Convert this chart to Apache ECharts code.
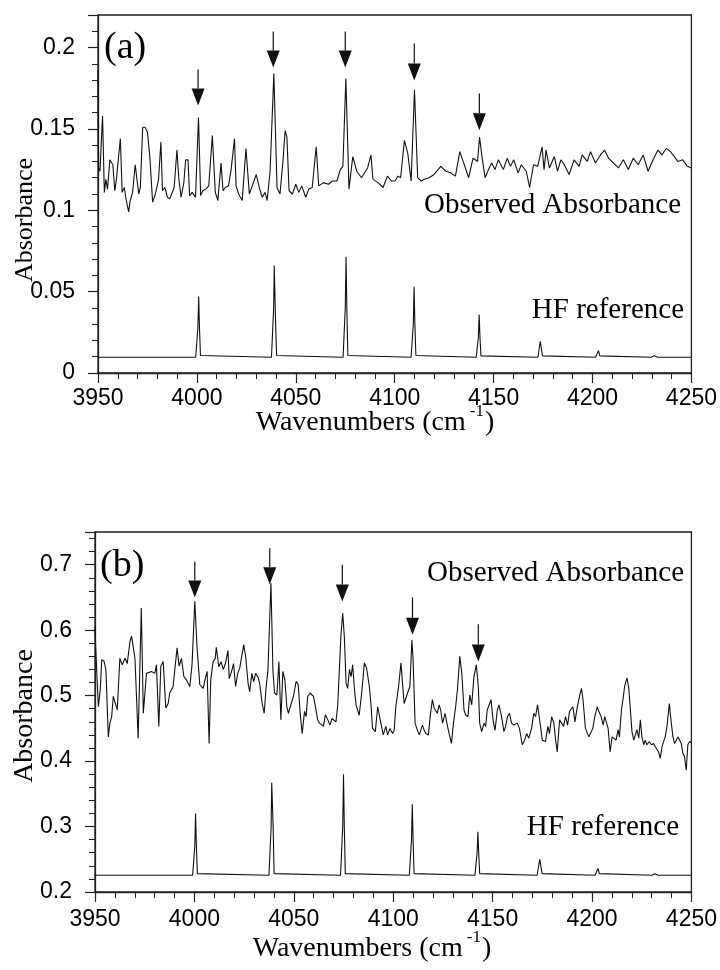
<!DOCTYPE html>
<html>
<head>
<meta charset="utf-8">
<script src="https://cdn.jsdelivr.net/npm/echarts@6/dist/echarts.min.js"></script>
<style>
  html, body { margin: 0; padding: 0; background: #fff; }
  #main { width: 720px; height: 970px; }
</style>
</head>
<body>
<div id="main"></div>
<script>
// x range and ticks (cm-1)
var xMin = 3950, xMax = 4250, xStep = 50;

// panel (a) - observed absorbance [wavenumber, absorbance]
var obsA = [
  [3950.0,0.186],[3950.3,0.126],[3951.0,0.124],[3952.3,0.158],[3953.2,0.111],[3954.0,0.119],[3954.8,0.113],
  [3956.0,0.131],[3957.5,0.128],[3958.5,0.112],[3959.3,0.119],[3961.3,0.144],[3962.2,0.111],[3963.3,0.114],
  [3964.3,0.106],[3965.5,0.099],[3966.3,0.106],[3967.5,0.111],[3968.8,0.128],[3969.6,0.127],[3970.6,0.110],
  [3971.4,0.114],[3972.6,0.151],[3973.8,0.151],[3975.0,0.148],[3976.2,0.133],[3977.6,0.105],[3979.0,0.110],
  [3980.6,0.119],[3981.8,0.142],[3982.6,0.112],[3983.8,0.114],[3985.1,0.108],[3986.3,0.107],[3987.3,0.106],
  [3988.5,0.114],[3989.9,0.137],[3990.9,0.119],[3992.0,0.108],[3993.4,0.117],[3994.3,0.131],[3995.5,0.131],
  [3996.3,0.109],[3997.6,0.111],[3999.3,0.108],[4000.8,0.157],[4001.9,0.109],[4003.0,0.112],[4004.4,0.113],
  [4006.0,0.115],[4007.8,0.146],[4009.3,0.111],[4010.6,0.106],[4012.2,0.129],[4013.2,0.112],[4014.3,0.114],
  [4016.0,0.115],[4017.3,0.125],[4019.0,0.144],[4019.8,0.115],[4021.1,0.110],[4022.9,0.106],[4024.8,0.138],
  [4026.5,0.110],[4028.0,0.115],[4030.0,0.122],[4031.5,0.114],[4033.0,0.108],[4034.5,0.111],[4035.5,0.106],
  [4037.0,0.124],[4038.9,0.184],[4040.5,0.114],[4042.0,0.110],[4043.5,0.130],[4044.6,0.149],[4045.5,0.145],
  [4046.6,0.112],[4048.3,0.110],[4050.0,0.116],[4051.5,0.111],[4053.0,0.115],[4055.0,0.108],[4056.6,0.113],
  [4058.3,0.114],[4060.3,0.139],[4061.6,0.115],[4064.0,0.117],[4066.5,0.116],[4068.5,0.118],[4070.8,0.118],
  [4072.5,0.125],[4073.8,0.127],[4075.3,0.181],[4076.9,0.113],[4078.8,0.133],[4080.8,0.124],[4083.2,0.120],
  [4086.3,0.126],[4088.0,0.134],[4089.0,0.119],[4091.6,0.117],[4094.1,0.114],[4096.3,0.121],[4098.3,0.118],
  [4100.2,0.118],[4101.6,0.121],[4103.0,0.120],[4104.9,0.143],[4106.6,0.135],[4108.3,0.118],[4110.0,0.174],
  [4111.6,0.120],[4113.3,0.118],[4115.0,0.119],[4117.4,0.120],[4119.9,0.122],[4123.3,0.127],[4125.8,0.124],
  [4128.3,0.123],[4130.7,0.121],[4132.9,0.136],[4134.9,0.129],[4137.4,0.120],[4139.6,0.132],[4141.9,0.130],
  [4142.9,0.145],[4144.1,0.133],[4145.7,0.120],[4147.4,0.125],[4149.0,0.129],[4150.7,0.125],[4152.4,0.131],
  [4154.9,0.125],[4156.9,0.132],[4158.5,0.127],[4160.2,0.131],[4162.4,0.123],[4164.0,0.128],[4166.5,0.124],
  [4168.2,0.114],[4170.2,0.128],[4172.3,0.127],[4174.5,0.139],[4175.5,0.125],[4176.5,0.137],[4178.2,0.126],
  [4180.7,0.133],[4182.3,0.124],[4184.0,0.131],[4185.7,0.128],[4188.2,0.122],[4190.7,0.131],[4193.2,0.127],
  [4194.8,0.134],[4197.3,0.130],[4199.0,0.136],[4201.5,0.129],[4204.0,0.134],[4206.1,0.137],[4208.1,0.132],
  [4210.6,0.129],[4213.1,0.126],[4215.6,0.131],[4218.1,0.125],[4220.6,0.132],[4223.1,0.128],[4225.6,0.134],
  [4228.1,0.124],[4230.6,0.131],[4233.1,0.137],[4235.1,0.134],[4237.3,0.138],[4239.4,0.136],[4241.4,0.133],
  [4243.1,0.130],[4245.6,0.131],[4248.0,0.127],[4250.0,0.126]
];

// panel (a) - HF reference
var refA = [
  [3950,0.0097],
  [3999.4,0.0097],[4000.1,0.0108],[4000.5,0.028],[4000.9,0.047],[4001.3,0.028],[4001.8,0.0108],[4002.6,0.0097],
  [4037.7,0.0097],[4038.4,0.0108],[4038.8,0.040],[4039.1,0.066],[4039.4,0.0655],[4039.8,0.030],[4040.3,0.0108],[4041.1,0.0097],
  [4073.9,0.0097],[4074.6,0.0108],[4075.0,0.040],[4075.4,0.0714],[4075.8,0.040],[4076.3,0.0108],[4077.1,0.0097],
  [4108.3,0.0097],[4109.0,0.0108],[4109.4,0.030],[4109.8,0.053],[4110.2,0.030],[4110.7,0.0108],[4111.5,0.0097],
  [4141.2,0.0097],[4141.9,0.0105],[4142.3,0.022],[4142.7,0.036],[4143.1,0.022],[4143.6,0.0105],[4144.4,0.0097],
  [4172.4,0.0097],[4173.2,0.0105],[4173.6,0.0195],[4174.2,0.0198],[4174.7,0.0105],[4175.6,0.0097],
  [4201.5,0.0097],[4202.4,0.0105],[4203.0,0.0137],[4203.7,0.0105],[4204.7,0.0097],
  [4229.7,0.0097],[4230.5,0.0102],[4231.2,0.0106],[4232.0,0.0099],[4233.0,0.0097],
  [4250,0.0097]
];

// panel (a) arrows: [wavenumber, tail, tip]
var arrowsA = [
  [4000.6,0.1865,0.1644],
  [4038.6,0.2098,0.1877],
  [4075.0,0.2098,0.1877],
  [4109.9,0.2025,0.1798],
  [4142.8,0.1718,0.1491]
];

// panel (b) - observed absorbance
var obsB = [
  [3950.0,0.605],[3950.4,0.570],[3951.7,0.483],[3952.6,0.508],[3953.4,0.555],[3954.5,0.553],[3955.5,0.539],
  [3956.7,0.437],[3957.5,0.458],[3958.4,0.468],[3959.2,0.499],[3960.0,0.501],[3961.2,0.478],[3962.5,0.557],
  [3963.7,0.547],[3965.1,0.557],[3966.2,0.549],[3967.6,0.583],[3968.4,0.591],[3969.2,0.575],[3970.1,0.557],
  [3970.9,0.555],[3971.7,0.435],[3972.6,0.435],[3973.3,0.634],[3973.9,0.634],[3974.3,0.473],[3975.1,0.471],
  [3975.9,0.534],[3976.8,0.532],[3978.4,0.537],[3980.1,0.534],[3980.9,0.547],[3982.1,0.453],[3983.1,0.545],
  [3984.3,0.552],[3985.6,0.481],[3986.8,0.488],[3987.6,0.504],[3989.3,0.514],[3990.1,0.539],[3991.3,0.573],
  [3992.3,0.545],[3993.5,0.557],[3994.7,0.529],[3996.0,0.524],[3997.7,0.514],[3998.8,0.547],[4000.2,0.644],
  [4001.3,0.575],[4002.7,0.517],[4003.5,0.519],[4004.4,0.511],[4005.7,0.529],[4006.4,0.537],[4007.4,0.427],
  [4008.2,0.524],[4009.4,0.552],[4010.5,0.557],[4011.0,0.574],[4012.3,0.544],[4013.4,0.552],[4014.5,0.540],
  [4015.6,0.549],[4016.9,0.569],[4017.5,0.526],[4018.6,0.536],[4019.7,0.549],[4020.7,0.514],[4021.8,0.534],
  [4022.8,0.542],[4024.8,0.578],[4025.8,0.559],[4027.0,0.519],[4027.8,0.506],[4028.9,0.534],[4029.8,0.521],
  [4030.8,0.534],[4031.9,0.529],[4032.8,0.519],[4034.1,0.488],[4035.1,0.473],[4036.1,0.514],[4037.0,0.539],
  [4037.8,0.611],[4038.5,0.672],[4039.5,0.539],[4040.3,0.504],[4041.5,0.501],[4042.5,0.552],[4043.5,0.463],
  [4044.5,0.537],[4045.5,0.524],[4046.5,0.483],[4047.3,0.473],[4048.7,0.488],[4049.8,0.499],[4051.2,0.522],
  [4052.2,0.517],[4053.2,0.473],[4054.2,0.442],[4055.4,0.476],[4056.2,0.468],[4057.0,0.499],[4058.2,0.504],
  [4059.2,0.506],[4059.9,0.499],[4060.9,0.483],[4062.0,0.463],[4062.9,0.458],[4063.9,0.460],[4064.9,0.453],
  [4065.9,0.471],[4067.1,0.463],[4068.2,0.455],[4069.2,0.465],[4070.2,0.468],[4071.2,0.460],[4072.1,0.486],
  [4072.9,0.539],[4073.7,0.591],[4074.6,0.626],[4075.4,0.591],[4076.3,0.519],[4077.1,0.511],[4078.0,0.540],
  [4078.8,0.529],[4079.6,0.547],[4080.4,0.514],[4081.3,0.486],[4082.1,0.488],[4082.9,0.470],[4084.3,0.509],
  [4085.5,0.550],[4086.6,0.542],[4088.0,0.514],[4088.8,0.488],[4089.6,0.450],[4091.0,0.445],[4092.2,0.483],
  [4093.0,0.481],[4093.8,0.458],[4095.0,0.440],[4096.3,0.453],[4097.2,0.440],[4098.4,0.450],[4099.0,0.446],
  [4099.7,0.442],[4100.5,0.447],[4101.3,0.483],[4102.7,0.514],[4103.9,0.550],[4104.7,0.547],[4105.5,0.488],
  [4106.4,0.486],[4107.2,0.504],[4108.4,0.514],[4109.4,0.585],[4110.0,0.555],[4111.0,0.458],[4112.2,0.447],
  [4113.1,0.440],[4113.9,0.442],[4114.7,0.455],[4115.6,0.447],[4116.4,0.442],[4117.7,0.440],[4118.6,0.468],
  [4119.7,0.494],[4120.6,0.481],[4121.4,0.483],[4122.2,0.473],[4123.1,0.486],[4123.9,0.478],[4124.8,0.458],
  [4126.1,0.473],[4127.3,0.453],[4128.1,0.453],[4129.3,0.427],[4130.3,0.458],[4131.4,0.483],[4132.3,0.509],
  [4133.5,0.560],[4134.5,0.534],[4135.6,0.478],[4136.5,0.470],[4137.6,0.468],[4138.5,0.501],[4139.5,0.486],
  [4140.6,0.529],[4141.8,0.547],[4142.8,0.514],[4143.5,0.458],[4144.5,0.445],[4145.7,0.458],[4146.5,0.453],
  [4147.3,0.478],[4148.2,0.478],[4149.2,0.494],[4150.2,0.463],[4151.2,0.447],[4152.4,0.478],[4153.2,0.486],
  [4154.5,0.468],[4155.7,0.445],[4156.5,0.453],[4157.5,0.468],[4158.5,0.473],[4159.5,0.458],[4160.7,0.455],
  [4161.5,0.453],[4162.4,0.458],[4163.5,0.450],[4164.9,0.425],[4166.1,0.432],[4167.1,0.442],[4168.2,0.435],
  [4169.6,0.450],[4170.7,0.473],[4171.6,0.468],[4172.6,0.486],[4173.3,0.486],[4174.1,0.453],[4175.0,0.432],
  [4175.8,0.435],[4176.6,0.430],[4177.8,0.453],[4178.6,0.442],[4179.7,0.468],[4180.8,0.458],[4181.7,0.432],
  [4182.5,0.414],[4183.7,0.463],[4184.7,0.458],[4185.7,0.453],[4186.7,0.468],[4187.7,0.455],[4188.7,0.476],
  [4189.5,0.473],[4190.4,0.483],[4191.4,0.460],[4192.5,0.481],[4193.7,0.499],[4194.7,0.511],[4195.5,0.493],
  [4196.7,0.450],[4197.5,0.448],[4198.4,0.437],[4199.2,0.442],[4200.4,0.450],[4201.4,0.468],[4202.6,0.483],
  [4203.4,0.476],[4204.6,0.468],[4205.6,0.455],[4206.4,0.468],[4207.2,0.468],[4208.1,0.450],[4209.1,0.414],
  [4210.1,0.437],[4211.1,0.440],[4212.1,0.432],[4213.1,0.448],[4213.8,0.437],[4214.8,0.478],[4215.8,0.499],
  [4216.4,0.514],[4217.6,0.527],[4218.5,0.511],[4219.3,0.478],[4220.1,0.445],[4221.0,0.432],[4221.8,0.440],
  [4222.6,0.448],[4223.5,0.435],[4224.3,0.463],[4225.1,0.437],[4226.0,0.425],[4226.8,0.432],[4227.6,0.425],
  [4228.8,0.430],[4229.8,0.425],[4231.0,0.427],[4231.8,0.422],[4232.7,0.419],[4233.5,0.414],[4234.3,0.404],
  [4235.2,0.422],[4236.0,0.425],[4236.8,0.437],[4237.7,0.453],[4238.9,0.488],[4239.7,0.463],[4240.7,0.437],
  [4241.5,0.427],[4242.4,0.432],[4243.2,0.437],[4244.0,0.435],[4244.9,0.427],[4245.7,0.412],[4246.5,0.407],
  [4247.4,0.386],[4248.2,0.425],[4249.1,0.430],[4250.0,0.428]
];

// panel (b) - HF reference
var refB = [
  [3950,0.2256],
  [3999.1,0.2256],[3999.8,0.228],[4000.2,0.27],[4000.6,0.320],[4001.0,0.27],[4001.5,0.228],[4002.3,0.2256],
  [4037.5,0.2256],[4038.2,0.228],[4038.6,0.30],[4038.9,0.367],[4039.2,0.365],[4039.6,0.30],[4040.1,0.228],[4040.9,0.2256],
  [4073.5,0.2256],[4074.2,0.228],[4074.6,0.30],[4075.0,0.380],[4075.4,0.30],[4075.9,0.228],[4076.7,0.2256],
  [4108.1,0.2256],[4108.8,0.228],[4109.2,0.28],[4109.6,0.334],[4110.0,0.28],[4110.5,0.228],[4111.3,0.2256],
  [4141.1,0.2256],[4141.8,0.228],[4142.2,0.26],[4142.6,0.292],[4143.0,0.26],[4143.5,0.228],[4144.3,0.2256],
  [4172.4,0.2256],[4173.2,0.228],[4173.7,0.250],[4174.3,0.251],[4174.9,0.228],[4175.8,0.2256],
  [4201.5,0.2256],[4202.4,0.228],[4203.0,0.236],[4203.7,0.228],[4204.7,0.2256],
  [4230.2,0.2256],[4231.0,0.227],[4231.6,0.228],[4232.3,0.2262],[4233.2,0.2256],
  [4250,0.2256]
];

// panel (b) arrows: [wavenumber, tail, tip]
var arrowsB = [
  [4000.2,0.705,0.650],
  [4037.9,0.725,0.670],
  [4074.4,0.700,0.644],
  [4109.7,0.650,0.593],
  [4142.8,0.609,0.552]
];

var serif = '"Liberation Serif", "DejaVu Serif", serif';
var sans = '"Liberation Sans", Arial, sans-serif';
var ink = '#111';

var chart = echarts.init(document.getElementById('main'), null, {renderer: 'canvas'});

function arrowItem(params, api) {
  var x = api.value(0);
  var p1 = api.coord([x, api.value(1)]);
  var p2 = api.coord([x, api.value(2)]);
  var headLen = 17, headW = 6.5;
  return {
    type: 'group',
    children: [
      {type: 'line', shape: {x1: p1[0], y1: p1[1], x2: p2[0], y2: p2[1] - headLen},
        style: {stroke: ink, lineWidth: 1.2}},
      {type: 'polygon', shape: {points: [[p2[0] - headW, p2[1] - headLen], [p2[0] + headW, p2[1] - headLen], [p2[0], p2[1]]]},
        style: {fill: ink}}
    ]
  };
}

function xAxisCfg(gi, margin) {
  return {
    gridIndex: gi, type: 'value', min: xMin, max: xMax, interval: xStep,
    axisLine: {show: true, lineStyle: {color: '#222', width: 1.3}},
    axisTick: {show: true, inside: false, length: 10, lineStyle: {color: '#222', width: 1.2}},
    minorTick: {show: true, splitNumber: 5, length: 6, lineStyle: {color: '#222', width: 1}},
    axisLabel: {color: '#000', fontSize: 23, fontFamily: sans, margin: margin,
      formatter: function (v) { return String(v); }},
    splitLine: {show: false}
  };
}

function yAxisCfg(gi, min, max, step) {
  return {
    gridIndex: gi, type: 'value', min: min, max: max, interval: step,
    axisLine: {show: true, lineStyle: {color: '#222', width: 1.3}},
    axisTick: {show: true, inside: false, length: 10, lineStyle: {color: '#222', width: 1.2}},
    minorTick: {show: true, splitNumber: 5, length: 6, lineStyle: {color: '#222', width: 1}},
    axisLabel: {color: '#000', fontSize: 23, fontFamily: sans, margin: 23, showMaxLabel: false},
    splitLine: {show: false}
  };
}

function lineSeries(gi, data, w) {
  return {
    type: 'line', xAxisIndex: gi, yAxisIndex: gi, data: data,
    showSymbol: false, symbol: 'none', animation: false, silent: true,
    lineStyle: {color: ink, width: w}
  };
}

function txt(x, y, s, size, align, rot) {
  return {
    type: 'text', x: x, y: y, rotation: rot || 0,
    style: {text: s, fill: '#000', font: size + 'px ' + serif, align: align || 'left', verticalAlign: 'middle'}
  };
}

function xTitle(cx, cy) {
  return {
    type: 'text', x: cx, y: cy,
    style: {
      text: '{n|Wavenumbers (cm}{s|-1}{n|)}',
      align: 'center', verticalAlign: 'middle',
      rich: {
        n: {fontSize: 28, fontFamily: serif, fill: '#000', lineHeight: 34, verticalAlign: 'bottom'},
        s: {fontSize: 17, fontFamily: serif, fill: '#000', lineHeight: 34, verticalAlign: 'top', padding: [0, 1, 0, 4]}
      }
    }
  };
}

var option = {
  backgroundColor: '#fff',
  animation: false,
  grid: [
    {left: 98, top: 15, width: 601, height: 358, show: true, borderColor: '#222', borderWidth: 1.3, backgroundColor: 'transparent'},
    {left: 95, top: 532, width: 598, height: 360, show: true, borderColor: '#222', borderWidth: 1.3, backgroundColor: 'transparent'}
  ],
  xAxis: [xAxisCfg(0, 14), xAxisCfg(1, 16)],
  yAxis: [yAxisCfg(0, 0, 0.22, 0.05), yAxisCfg(1, 0.2, 0.75, 0.1)],
  series: [
    lineSeries(0, obsA, 1.1),
    lineSeries(0, refA, 1.1),
    {type: 'custom', xAxisIndex: 0, yAxisIndex: 0, data: arrowsA, renderItem: arrowItem, silent: true, clip: false},
    lineSeries(1, obsB, 1.1),
    lineSeries(1, refB, 1.1),
    {type: 'custom', xAxisIndex: 1, yAxisIndex: 1, data: arrowsB, renderItem: arrowItem, silent: true, clip: false}
  ],
  graphic: [
    txt(104, 48, '(a)', 38),
    txt(681, 205, 'Observed Absorbance', 29, 'right'),
    txt(684, 310, 'HF reference', 29, 'right'),
    txt(25, 220, 'Absorbance', 26, 'center', Math.PI / 2),
    xTitle(375, 420),
    txt(100, 566, '(b)', 38),
    txt(684, 573, 'Observed Absorbance', 29, 'right'),
    txt(679, 827, 'HF reference', 29, 'right'),
    txt(25, 716, 'Absorbance', 28, 'center', Math.PI / 2),
    xTitle(372, 946)
  ]
};

chart.setOption(option);
</script>
</body>
</html>
